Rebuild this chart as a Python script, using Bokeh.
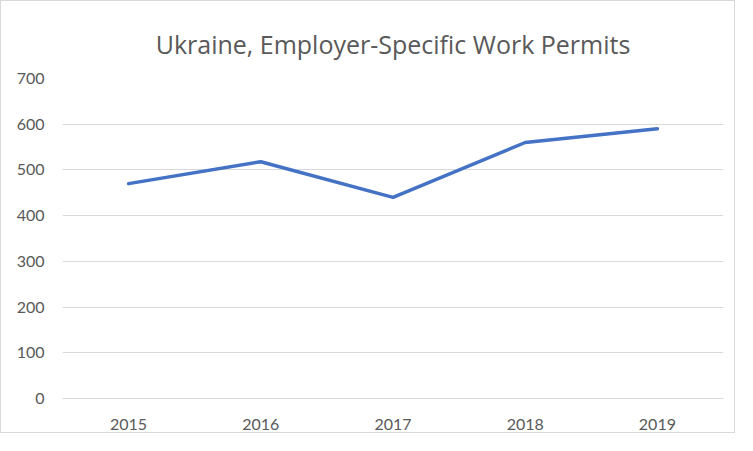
from bokeh.plotting import figure
from bokeh.models import FactorRange, Range1d, FixedTicker, Title
from bokeh.embed import file_html
from bokeh.resources import INLINE

years = ["2015", "2016", "2017", "2018", "2019"]
permits = [470, 518, 440, 560, 590]
y_ticks = [0, 100, 200, 300, 400, 500, 600, 700]
title_text = "Ukraine, Employer-Specific Work Permits"

p = figure(width=735, height=433, x_range=FactorRange(*years), y_range=Range1d(0, 700),
           output_backend="svg", toolbar_location=None,
           min_border_left=61, min_border_right=13, min_border_top=77, min_border_bottom=36)
p.styles = {"border": "1px solid #D9D9D9"}
p.outline_line_color = None
p.background_fill_color = "white"
p.border_fill_color = "white"

p.title = Title(text=title_text, align="center",
                text_font="Open Sans", text_font_size="25px", text_font_style="normal",
                text_color="#595959", offset=0, standoff=35)

p.line(x=years, y=permits, line_color="#4472C4", line_width=3.5, line_cap="round", line_join="round")

p.yaxis.ticker = FixedTicker(ticks=y_ticks)
p.yaxis.axis_line_color = None
p.yaxis.major_tick_line_color = None
p.yaxis.minor_tick_line_color = None
p.yaxis.major_label_text_font = "Lato"
p.yaxis.major_label_text_font_size = "16px"
p.yaxis.major_label_text_color = "#595959"
p.yaxis.major_label_standoff = 12

p.xaxis.axis_line_color = "#D9D9D9"
p.xaxis.major_tick_line_color = None
p.xaxis.minor_tick_line_color = None
p.xaxis.major_label_text_font = "Lato"
p.xaxis.major_label_text_font_size = "16px"
p.xaxis.major_label_text_color = "#595959"
p.xaxis.major_label_standoff = 14

p.xgrid.grid_line_color = None
p.ygrid.grid_line_color = "#D9D9D9"
p.ygrid.grid_line_width = 1

open("out.html", "w").write(file_html(p, INLINE))
